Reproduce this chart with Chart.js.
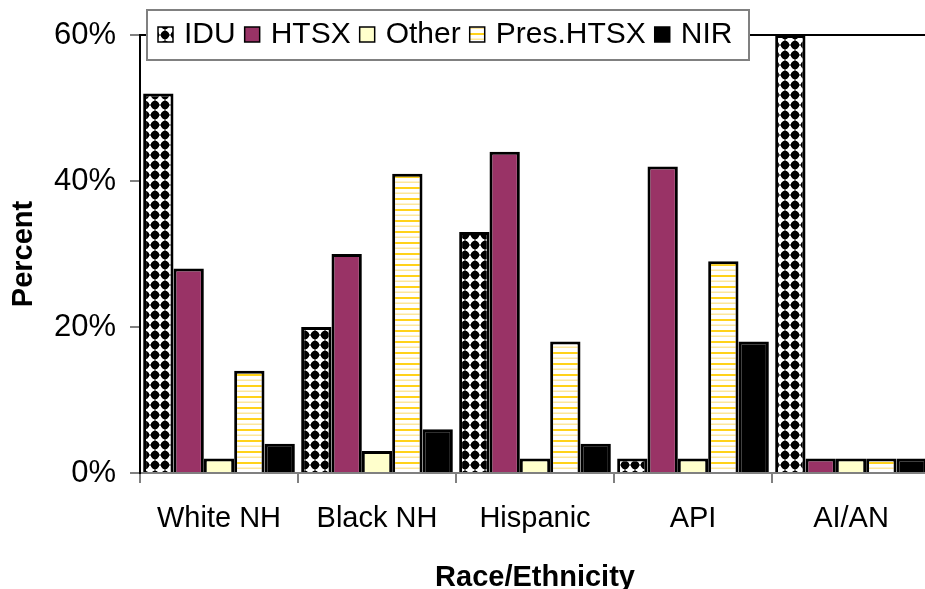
<!DOCTYPE html>
<html>
<head>
<meta charset="utf-8">
<script src="https://cdn.jsdelivr.net/npm/chart.js@4/dist/chart.umd.min.js"></script>
<style>
  html, body { margin: 0; padding: 0; background: #fff; overflow: hidden; }
</style>
</head>
<body>
<canvas id="miGrafica" width="940" height="589"></canvas>
<script>
// datos
const categorias = ["White NH", "Black NH", "Hispanic", "API", "AI/AN"]
const series = ["IDU", "HTSX", "Other", "Pres.HTSX", "NIR"]
const idu = [52, 20, 33, 2, 60]
const htsx = [28, 30, 44, 42, 2]
const other = [2, 3, 2, 2, 2]
const presHtsx = [14, 41, 18, 29, 2]
const nir = [4, 6, 4, 18, 2]
const yTicks = [0, 20, 40, 60]

let fuente = "'Liberation Sans', Arial, sans-serif"

// patron de rombos negros (IDU)
function patronRombos() {
    let c = document.createElement("canvas")
    c.width = 10
    c.height = 10
    let g = c.getContext("2d")
    g.fillStyle = "#fff"
    g.fillRect(0, 0, 10, 10)
    g.fillStyle = "#000"
    g.beginPath()
    g.moveTo(5, 0)
    g.lineTo(10, 5)
    g.lineTo(5, 10)
    g.lineTo(0, 5)
    g.closePath()
    g.fill()
    g.beginPath()
    g.arc(5, 5, 4.2, 0, Math.PI * 2)
    g.fill()
    return g.createPattern(c, "repeat")
}

// patron de rayas amarillas (Pres.HTSX)
function patronRayas() {
    let c = document.createElement("canvas")
    c.width = 4
    c.height = 11
    let g = c.getContext("2d")
    g.fillStyle = "#fff"
    g.fillRect(0, 0, 4, 11)
    g.fillStyle = "#ffd21a"
    g.fillRect(0, 0, 4, 2)
    g.fillStyle = "#fde79a"
    g.fillRect(0, 5.5, 4, 1.5)
    return g.createPattern(c, "repeat")
}

let colores = [patronRombos(), "#993366", "#ffffcc", patronRayas(), "#000000"]
let valores = [idu, htsx, other, presHtsx, nir]

// linea de arriba del area del grafico
const lineaArriba = {
    id: "lineaArriba",
    afterDatasetsDraw(chart) {
        let ctx = chart.ctx
        let a = chart.chartArea
        ctx.save()
        ctx.strokeStyle = "#000"
        ctx.lineWidth = 2
        ctx.beginPath()
        ctx.moveTo(a.left - 1, a.top)
        ctx.lineTo(chart.width, a.top)
        ctx.stroke()
        ctx.restore()
    }
}

// leyenda con caja, encima del area
const leyenda = {
    id: "leyenda",
    afterDraw(chart) {
        let ctx = chart.ctx
        ctx.save()
        ctx.fillStyle = "#fff"
        ctx.fillRect(147, 10, 602, 50)
        ctx.strokeStyle = "#808080"
        ctx.lineWidth = 2
        ctx.strokeRect(147, 10, 602, 50)
        ctx.font = "30px " + fuente
        ctx.textBaseline = "middle"
        let x = 158
        chart.data.datasets.forEach(ds => {
            ctx.fillStyle = ds.backgroundColor
            ctx.fillRect(x, 27, 15, 15)
            ctx.strokeStyle = "#000"
            ctx.lineWidth = 1.5
            ctx.strokeRect(x, 27, 15, 15)
            ctx.fillStyle = "#000"
            ctx.fillText(ds.label, x + 26, 35)
            x = x + 26 + ctx.measureText(ds.label).width + 9
        })
        ctx.restore()
    }
}

let miCanvas = document.getElementById("miGrafica").getContext("2d")

let chart = new Chart(miCanvas, {
    type: "bar",
    data: {
        labels: categorias,
        datasets: series.map((s, i) => ({
            label: s,
            data: valores[i],
            backgroundColor: colores[i],
            borderColor: "#000",
            borderWidth: 3,
            borderSkipped: "bottom",
            barPercentage: 1,
            categoryPercentage: 0.96
        }))
    },
    options: {
        responsive: false,
        animation: false,
        layout: { padding: { left: 0, right: 10, top: 35, bottom: 0 } },
        plugins: {
            legend: { display: false },
            tooltip: { enabled: false }
        },
        scales: {
            x: {
                afterFit: s => { s.height = 116 },
                grid: { drawOnChartArea: false, drawTicks: true, tickLength: 10, color: "#808080", lineWidth: 2 },
                border: { color: "#808080", width: 2 },
                ticks: { color: "#000", font: { family: fuente, size: 29 }, padding: 19, maxRotation: 0 },
                title: {
                    display: true,
                    text: "Race/Ethnicity",
                    color: "#000",
                    font: { family: fuente, size: 29, weight: "bold" },
                    padding: { top: 0, bottom: -6 }
                }
            },
            y: {
                min: 0,
                max: 60,
                afterFit: s => { s.width = 140 },
                afterBuildTicks: s => { s.ticks = yTicks.map(v => ({ value: v })) },
                grid: { drawOnChartArea: false, drawTicks: true, tickLength: 10, color: "#808080", lineWidth: 2 },
                border: { color: "#000", width: 2 },
                ticks: {
                    color: "#000",
                    font: { family: fuente, size: 31 },
                    padding: 14,
                    callback: v => v + "%"
                },
                title: {
                    display: true,
                    text: "Percent",
                    color: "#000",
                    font: { family: fuente, size: 29, weight: "bold" },
                    padding: { top: 7, bottom: 0 }
                }
            }
        }
    },
    plugins: [lineaArriba, leyenda]
})
</script>
</body>
</html>
